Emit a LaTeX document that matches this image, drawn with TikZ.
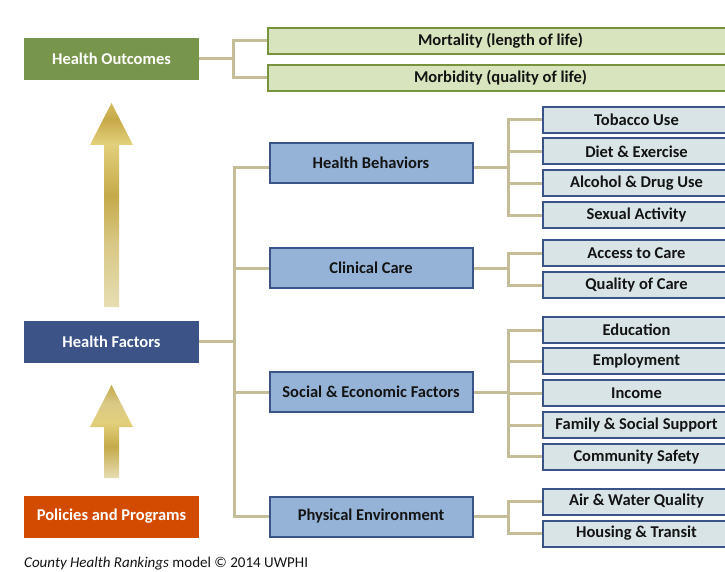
\documentclass[tikz,border=0pt]{standalone}
\usepackage{fontspec}
\setmainfont{Carlito}
\definecolor{hogreen}{HTML}{77964B}
\definecolor{hfblue}{HTML}{3B5387}
\definecolor{pporange}{HTML}{D24B00}
\definecolor{outfill}{HTML}{D7E4BD}
\definecolor{outline}{HTML}{77933C}
\definecolor{midfill}{HTML}{95B3D7}
\definecolor{midline}{HTML}{3A5489}
\definecolor{subfill}{HTML}{D9E4E6}
\definecolor{tanline}{HTML}{C4BD97}
\definecolor{darktext}{HTML}{141414}
\definecolor{gA}{HTML}{D4BC62}
\definecolor{gB}{HTML}{C6A947}
\definecolor{gC}{HTML}{E3D07C}
\definecolor{gD}{HTML}{C5AA4A}
\definecolor{gE}{HTML}{D9C987}
\definecolor{gF}{HTML}{E6DDB2}
\pgfdeclareverticalshading{goldbig}{100bp}{color(0bp)=(gF); color(25bp)=(gF); color(40bp)=(gE); color(52.5bp)=(gD); color(65bp)=(gC); color(71bp)=(gB); color(75bp)=(gA); color(100bp)=(gA)}
\pgfdeclareverticalshading{goldsmall}{100bp}{color(0bp)=(gF); color(25bp)=(gF); color(42bp)=(gD); color(55bp)=(gC); color(65bp)=(gE); color(75bp)=(gB); color(100bp)=(gB)}
\begin{document}
\begin{tikzpicture}[x=1pt,y=-1pt,
  every node/.style={font=\fontsize{16.5}{19}\selectfont\bfseries, inner sep=0pt},
  topbox/.style={minimum width=175pt, minimum height=42pt, text=white},
  outbox/.style={fill=outfill, draw=outline, line width=2pt, minimum width=465pt, minimum height=26pt, text=darktext},
  midbox/.style={fill=midfill, draw=midline, line width=2pt, minimum width=203pt, minimum height=40pt, text=darktext},
  subbox/.style={fill=subfill, draw=midline, line width=2pt, minimum width=187pt, minimum height=26pt, text=darktext},
  conn/.style={draw=tanline, line width=3pt}]
\clip (0,0) rectangle (725,572);
\fill[white] (0,0) rectangle (725,572);

% arrows
\shade[shading=goldbig] (104,307) -- (104,145) -- (90,145) -- (111.5,103) -- (133,145) -- (119,145) -- (119,307) -- cycle;
\shade[shading=goldsmall] (104,478) -- (104,427) -- (90,427) -- (111.5,385) -- (133,427) -- (119,427) -- (119,478) -- cycle;

% left column
\node[topbox, fill=hogreen] (ho) at (111.5,59) {Health Outcomes};
\node[topbox, fill=hfblue] (hf) at (111.5,341.5) {Health Factors};
\node[topbox, fill=pporange] (pp) at (111.5,516.5) {Policies and Programs};

% outcomes
\node[outbox] (mort) at (500.5,41) {Mortality (length of life)};
\node[outbox] (morb) at (500.5,78) {Morbidity (quality of life)};

% factors
\node[midbox] (hb) at (371,163) {Health Behaviors};
\node[midbox] (cc) at (371,268) {Clinical Care};
\node[midbox] (sef) at (371,392) {Social \& Economic Factors};
\node[midbox] (pe) at (371,516.5) {Physical Environment};

% sub boxes
\node[subbox] (tob) at (636.5,120) {Tobacco Use};
\node[subbox] (diet) at (636.5,151.3) {Diet \& Exercise};
\node[subbox] (alc) at (636.5,183.3) {Alcohol \& Drug Use};
\node[subbox] (sex) at (636.5,215) {Sexual Activity};
\node[subbox] (acc) at (636.5,253) {Access to Care};
\node[subbox] (qual) at (636.5,285) {Quality of Care};
\node[subbox] (edu) at (636.5,330) {Education};
\node[subbox] (emp) at (636.5,361.3) {Employment};
\node[subbox] (inc) at (636.5,393.3) {Income};
\node[subbox] (fam) at (636.5,425) {Family \& Social Support};
\node[subbox] (com) at (636.5,456.7) {Community Safety};
\node[subbox] (air) at (636.5,501.5) {Air \& Water Quality};
\node[subbox] (hou) at (636.5,533.5) {Housing \& Transit};

% connectors
\coordinate (hoj) at (233,0);
\coordinate (hfj) at (234,0);
\coordinate (rj) at (508,0);
\coordinate (hbw) at ([yshift=-5pt]hb.west);
\coordinate (hbe) at ([yshift=-5pt]hb.east);

\draw[conn] (ho.east) -- (hoj |- ho.east);
\draw[conn] (mort.west) -| (hoj |- ho.east) |- (morb.west);

\draw[conn] (hf.east) -- (hfj |- hf.east);
\draw[conn] (hbw) -| (hfj |- pe.west) -- (pe.west);
\draw[conn] (hfj |- cc.west) -- (cc.west);
\draw[conn] (hfj |- sef.west) -- (sef.west);

\draw[conn] (hbe) -- (rj |- hbe);
\draw[conn] (tob.west) -| (rj |- sex.west) -- (sex.west);
\foreach \n in {diet,alc} \draw[conn] (rj |- \n.west) -- (\n.west);

\draw[conn] (cc.east) -- (rj |- cc.east);
\draw[conn] (acc.west) -| (rj |- qual.west) -- (qual.west);

\draw[conn] (sef.east) -- (rj |- sef.east);
\draw[conn] (edu.west) -| (rj |- com.west) -- (com.west);
\foreach \n in {emp,inc,fam} \draw[conn] (rj |- \n.west) -- (\n.west);

\draw[conn] (pe.east) -- (rj |- pe.east);
\draw[conn] (air.west) -| (rj |- hou.west) -- (hou.west);

\node[anchor=base west, font=\fontsize{15}{18}\selectfont, text=darktext] (cap) at (24,567) {\textit{County Health Rankings} model © 2014 UWPHI};
\end{tikzpicture}
\end{document}
